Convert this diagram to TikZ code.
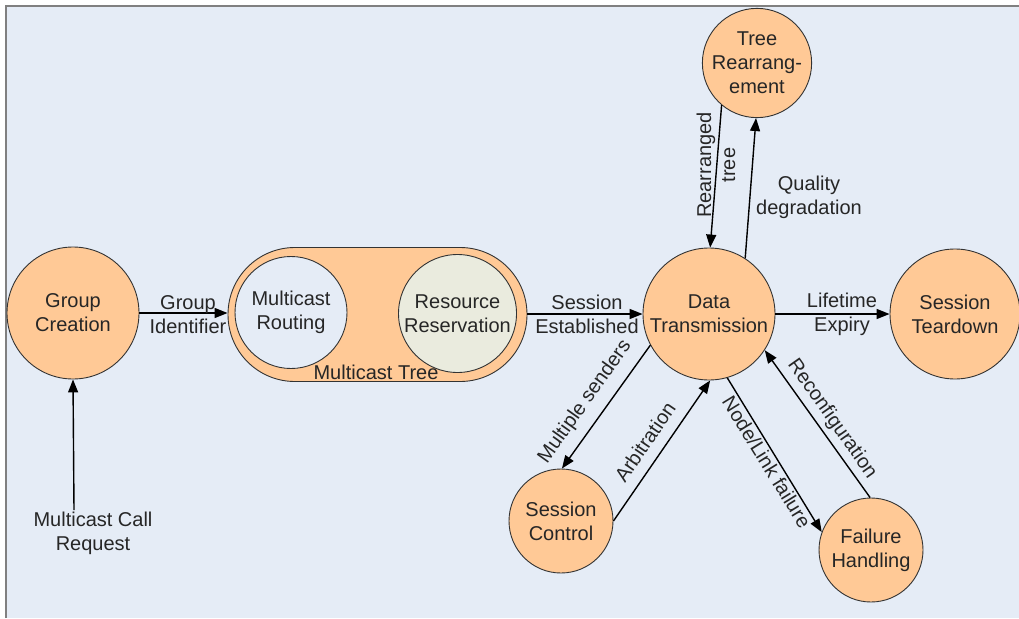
\documentclass[tikz,border=0pt]{standalone}
\usepackage{fontspec}
\setmainfont{Liberation Sans}
\usetikzlibrary{arrows.meta}
\definecolor{canvasbg}{HTML}{E5ECF6}
\definecolor{peach}{HTML}{FFC996}
\definecolor{sage}{HTML}{EAEBDE}
\definecolor{framegray}{HTML}{808080}
\begin{document}
\begin{tikzpicture}[x=1pt,y=-1pt,
  every node/.style={font=\fontsize{20}{24}\selectfont, text=black!85},
  state/.style={circle, draw=black!80, line width=0.9pt, fill=peach, align=center, inner sep=0pt},
  flow/.style={-{Triangle[length=13pt,width=10pt]}, line width=1.4pt, black},
  lbl/.style={align=center, inner sep=1pt}]

% page and frame
\useasboundingbox (0,0) rectangle (1019,618);
\fill[white] (0,0) rectangle (1019,618);
\fill[canvasbg] (7,7) rectangle (1019,618);
\draw[framegray, line width=2.4pt] (6,618) -- (6,6) -- (1019,6);

% multicast tree container
\node[draw=black!80, line width=0.9pt, fill=peach, rounded corners=66.9pt,
      minimum width=299pt, minimum height=134pt, inner sep=0pt] (tree) at (377.5,314.5) {};
\node[state, fill=canvasbg, minimum size=112pt] (mr) at (291,312.5) {Multicast\\Routing};
\node[state, fill=sage, minimum size=118pt] (rr) at (457.5,313.5) {Resource\\Reservation};
\node[lbl] (treelbl) at (376,372) {Multicast Tree};

% states
\node[state, minimum size=132pt] (gc) at (73,313) {Group\\Creation};
\node[state, minimum size=132pt] (dt) at (709,314) {Data\\Transmission};
\node[state, minimum size=130pt] (st) at (955,314) {Session\\Teardown};
\node[state, minimum size=106pt] (tr) at (757,63) {Tree\\Rearrang-\\ement};
\node[state, minimum size=104pt] (sc) at (561,521) {Session\\Control};
\node[state, minimum size=104pt] (fh) at (871,550) {Failure\\Handling};

% external request
\node[lbl] (mcr) at (93,533) {Multicast Call\\Request};
\coordinate (mcrtop) at (74,510);

% connectors
\draw[flow] (mcrtop) -- (gc.270);
\draw[flow] (gc.east) -- (tree.west |- gc.east);
\draw[flow] (tree.east |- dt.west) -- (dt.west);
\draw[flow] (dt.east) -- (st.west);
\draw[flow] (tr.230) -- (dt.89);
\draw[flow] (dt.57) -- (tr.269);
\draw[flow] (dt.208) -- (sc.89);
\draw[flow] (sc.0) -- (dt.271);
\draw[flow] (dt.286) -- (fh.160);
\draw[flow] (fh.91) -- (dt.327);

% connector labels
\node[lbl] (l1) at (188,315) {Group\\Identifier};
\node[lbl] (l2) at (587,314) {Session\\Established};
\node[lbl] (l3) at (842,314) {Lifetime\\Expiry};
\node[lbl, rotate=90] (l4) at (716,165) {Rearranged\\tree};
\node[lbl] (l5) at (809,197) {Quality\\degradation};
\node[lbl, rotate=54.6] (l6) at (585,402) {Multiple senders};
\node[lbl, rotate=55.6] (l7) at (645,442) {Arbitration};
\node[lbl, rotate=-58.3] (l8) at (767,462) {Node/Link failure};
\node[lbl, rotate=-54.8] (l9) at (832,419) {Reconfiguration};
\end{tikzpicture}
\end{document}
